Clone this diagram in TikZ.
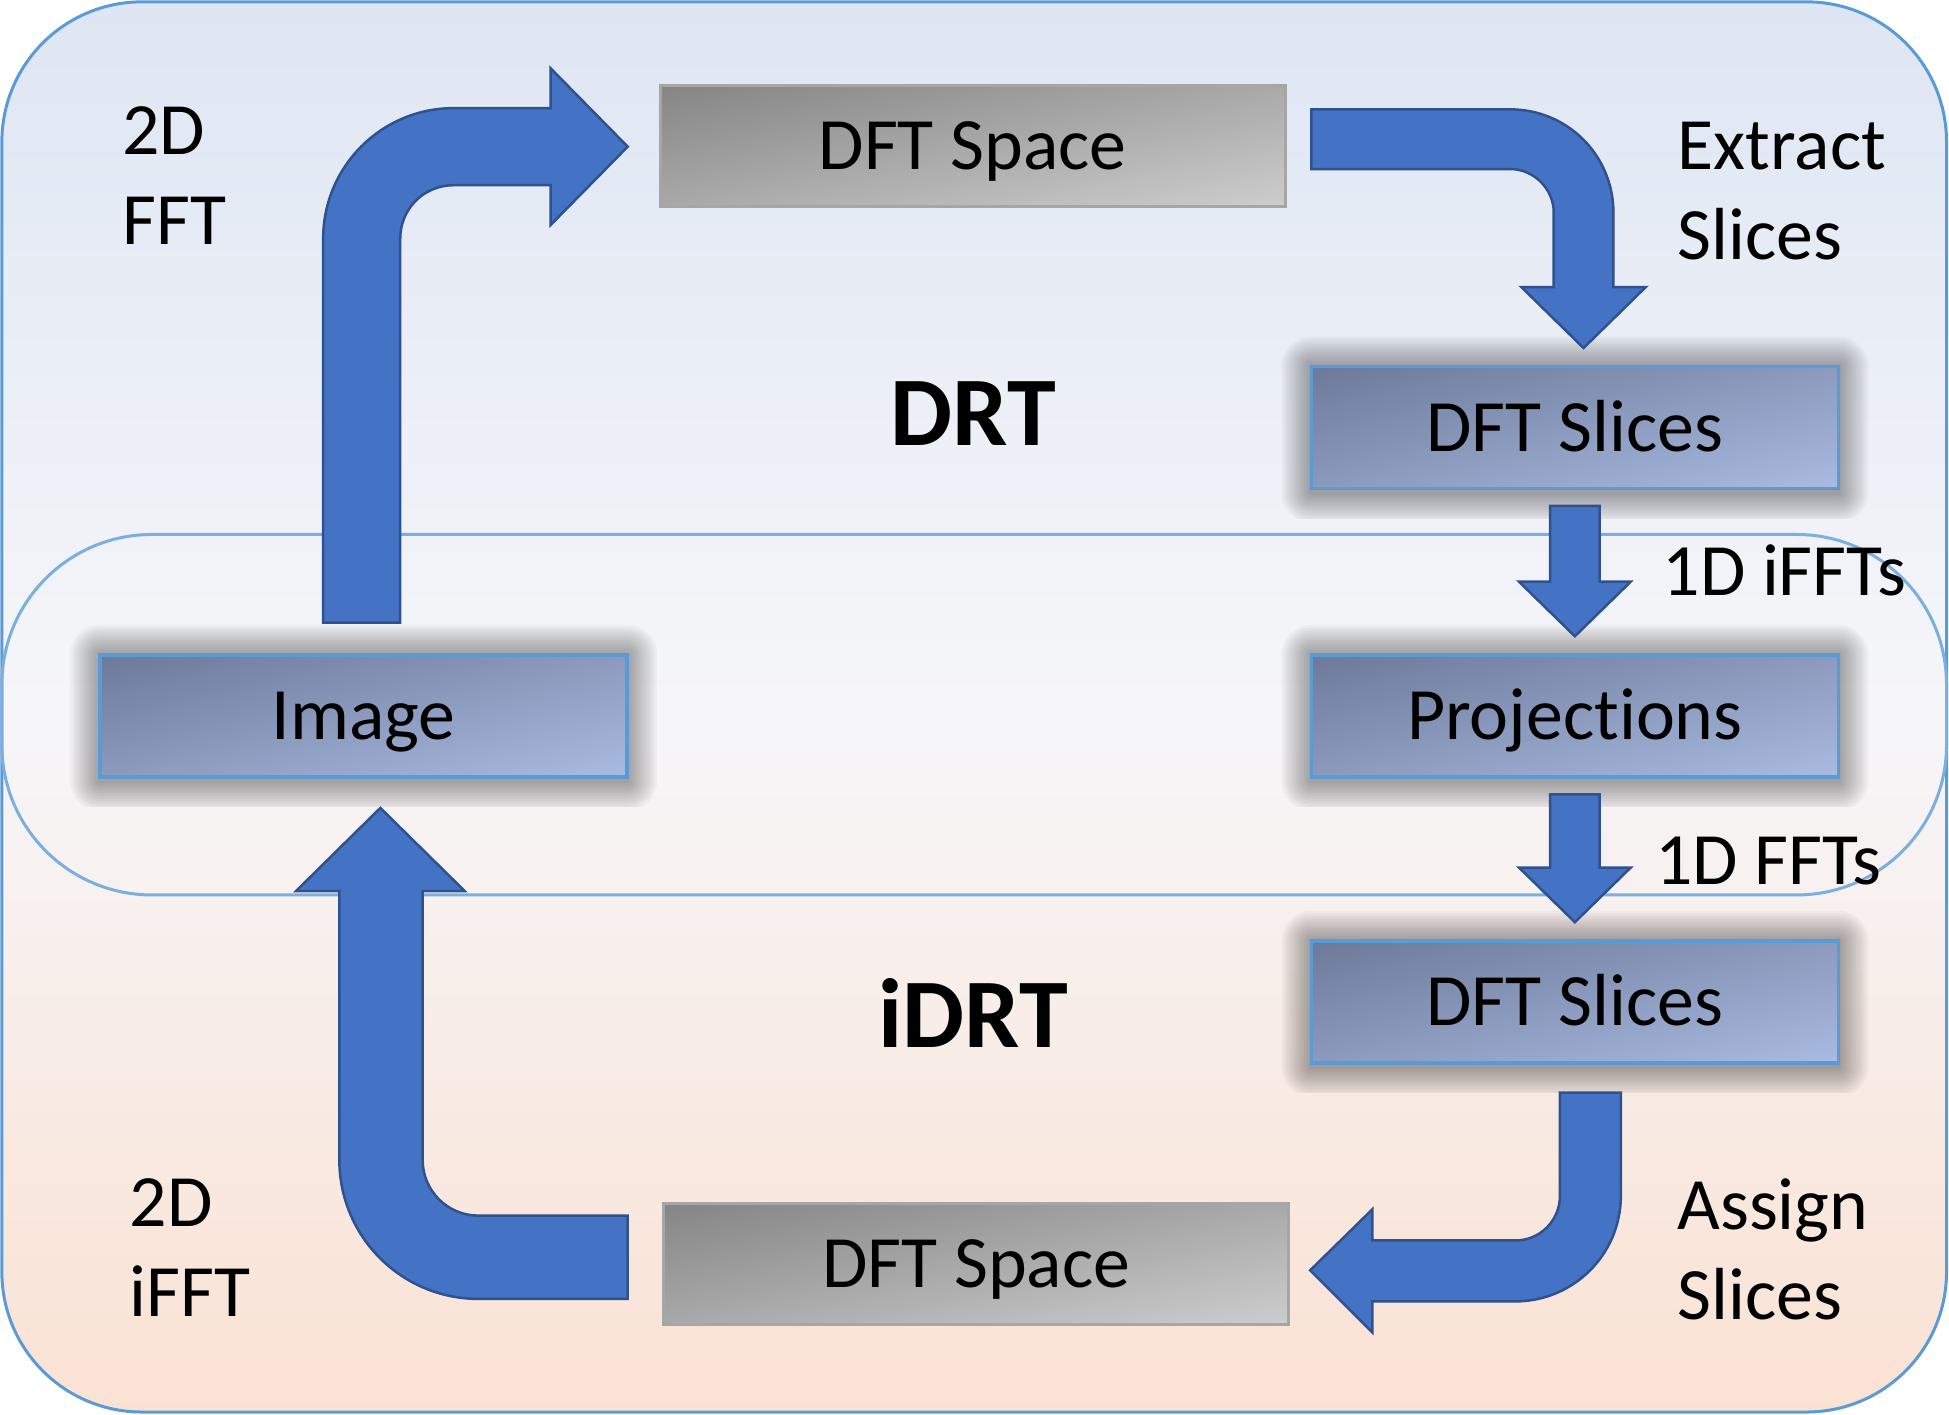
\documentclass[tikz,border=0pt]{standalone}
\usepackage{fontspec}
\setmainfont{Carlito}[Ligatures=NoCommon]
\usetikzlibrary{calc}

\definecolor{frameblue}{HTML}{5B9BD5}
\definecolor{bandblue}{HTML}{7BAFDF}
\definecolor{arrowfill}{HTML}{4472C4}
\definecolor{arrowline}{HTML}{2F528F}
\definecolor{skytop}{RGB}{222,230,243}
\definecolor{skymid}{RGB}{246,246,249}
\definecolor{peachbot}{RGB}{250,226,211}
\definecolor{slatedark}{RGB}{88,100,130}
\definecolor{slatelight}{RGB}{190,208,248}
\definecolor{greydark}{RGB}{108,108,108}
\definecolor{greylight}{RGB}{230,230,230}

\pgfdeclareverticalshading{slateshade}{100bp}{color(0bp)=(slatelight); color(100bp)=(slatedark)}
\pgfdeclareverticalshading{greyshade}{100bp}{color(0bp)=(greylight); color(100bp)=(greydark)}

\tikzset{
	procbox/.style={
			minimum width=58.7mm, minimum height=18.2mm, outer sep=-3mm,
			text height=13.5pt, text depth=0pt,
			font=\fontsize{21}{25.6}\selectfont,
			path picture={
					% soft grey glow round the box
					\foreach \k in {0,...,11}
					\fill[black, opacity=0.03, rounded corners={(12-\k)*0.25mm}]
					($(path picture bounding box.south west)+(\k*0.25mm,\k*0.25mm-0.4mm)$) rectangle
					($(path picture bounding box.north east)-(\k*0.25mm,\k*0.25mm)$);
					\shadedraw[draw=frameblue, line width=0.35mm, shading=slateshade, shading angle=13]
					($(path picture bounding box.south west)+(3mm,3mm)$) rectangle
					($(path picture bounding box.north east)+(-3mm,-3mm)$);
				}
		},
	spacebox/.style={
			draw=black!35, line width=0.3mm,
			shading=greyshade, shading angle=11,
			minimum width=62.5mm, minimum height=12.1mm,
			text height=13.5pt, text depth=0pt,
			font=\fontsize{21}{25.6}\selectfont
		},
	stepnote/.style={anchor=north west, inner sep=0pt, align=left,
			font=\fontsize{21}{25.6}\selectfont},
	phase/.style={inner sep=0pt, font=\fontsize{28}{34}\selectfont\bfseries},
	blockarrow/.style={fill=arrowfill, draw=arrowline, line width=0.25mm, line join=miter}
}

\begin{document}
\begin{tikzpicture}[x=0.1243mm, y=-0.1243mm]
	\useasboundingbox (0,0) rectangle (1568,1138);

	% Draw the background and the middle band
	\draw[frameblue, line width=0.3mm, rounded corners=14mm,
		top color=skytop, bottom color=peachbot, middle color=skymid]
	(1.5,1.5) rectangle (1566,1136);
	\draw[bandblue, line width=0.3mm, rounded corners=15mm] (1.5,430) rectangle (1566,720);

	% Draw the boxes
	\node[spacebox] (spaceA) at (782.5,117.5) {DFT Space};
	\node[procbox] (slicesA) at (1267,344) {DFT Slices};
	\node[procbox] (proj) at (1267,576) {Projections};
	\node[procbox] (slicesB) at (1267,806) {DFT Slices};
	\node[spacebox] (spaceB) at (785.5,1017) {DFT Space};
	\node[procbox] (image) at (292.5,576) {Image};

	% Draw the bent arrows
	\draw[blockarrow] (260,501) -- (260,192) .. controls (260,134) and (307,87) .. (365,87)
	-- (443,87) -- (443,55) -- (505,118) -- (443,181) -- (443,149) -- (365,149)
	.. controls (341,149) and (322,168) .. (322,192) -- (322,501) -- cycle;
	\draw[blockarrow] (1055,88) -- (1215,88) .. controls (1261,88) and (1298,125) .. (1298,171)
	-- (1298,231) -- (1324,231) -- (1274,280) -- (1224,231) -- (1250,231) -- (1250,171)
	.. controls (1250,152) and (1234,136) .. (1215,136) -- (1055,136) -- cycle;
	\draw[blockarrow] (1255,879) -- (1304,879) -- (1304,962) .. controls (1304,1009) and (1266,1047) .. (1219,1047)
	-- (1104,1047) -- (1104,1072) -- (1054,1022) -- (1104,973) -- (1104,998) -- (1219,998)
	.. controls (1239,998) and (1255,982) .. (1255,962) -- cycle;
	\draw[blockarrow] (505,978) -- (505,1045) -- (385,1045) .. controls (323,1045) and (273,995) .. (273,933)
	-- (273,717) -- (238,717) -- (306,650) -- (374,717) -- (340,717) -- (340,933)
	.. controls (340,958) and (360,978) .. (385,978) -- cycle;

	% Draw the straight arrows
	\foreach \from/\to in {slicesA/proj, proj/slicesB}
	\draw[blockarrow] ($(\from.south)+(-20,14)$) -- ($(\from.south)+(20,14)$)
	-- ($(\to.north)+(20,-59)$) -- ($(\to.north)+(45,-59)$) -- ($(\to.north)+(0,-15)$)
	-- ($(\to.north)+(-45,-59)$) -- ($(\to.north)+(-20,-59)$) -- cycle;

	% Draw the labels
	\node[phase] (drt) at (783,333) {DRT};
	\node[phase] (idrt) at (783,815) {iDRT};
	\node[stepnote] (fftlab) at (98,85) {2D\\FFT};
	\node[stepnote] (extractlab) at (1349,98) {Extract\\Slices};
	\node[stepnote] (ifftlab) at (1337,438) {1D iFFTs};
	\node[stepnote] (fftslab) at (1331,673) {1D FFTs};
	\node[stepnote] (ifft2lab) at (104,948) {2D\\iFFT};
	\node[stepnote] (assignlab) at (1349,948) {Assign\\Slices};
\end{tikzpicture}
\end{document}
